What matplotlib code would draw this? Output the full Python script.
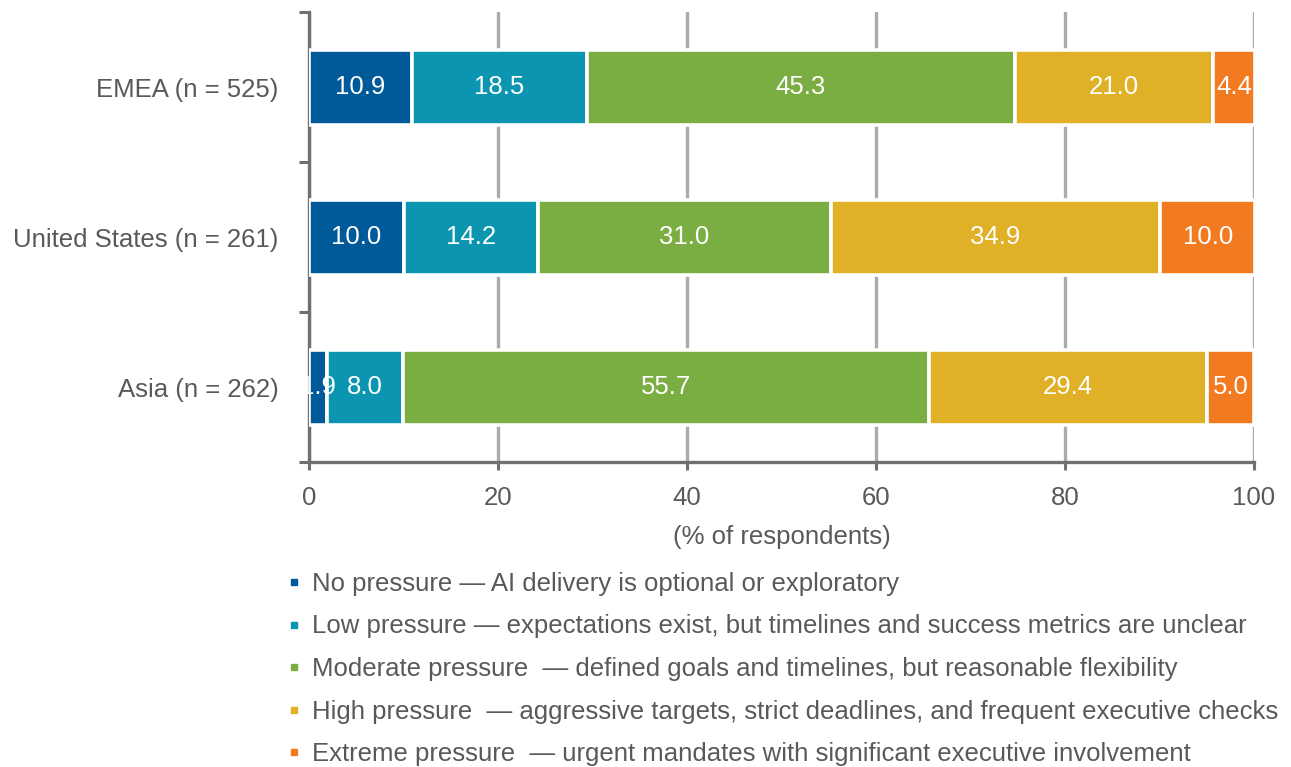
import matplotlib
matplotlib.use("Agg")
import matplotlib.pyplot as plt
from matplotlib.lines import Line2D
import numpy as np

plt.rcParams['font.family'] = ['Liberation Sans', 'DejaVu Sans']

regions = ["Asia (n = 262)", "United States (n = 261)", "EMEA (n = 525)"]
series_names = [
    "No pressure \u2014 AI delivery is optional or exploratory",
    "Low pressure \u2014 expectations exist, but timelines and success metrics are unclear",
    "Moderate pressure  \u2014 defined goals and timelines, but reasonable flexibility",
    "High pressure  \u2014 aggressive targets, strict deadlines, and frequent executive checks",
    "Extreme pressure  \u2014 urgent mandates with significant executive involvement",
]
no_pressure = [1.9, 10.0, 10.9]
low_pressure = [8.0, 14.2, 18.5]
moderate_pressure = [55.7, 31.0, 45.3]
high_pressure = [29.4, 34.9, 21.0]
extreme_pressure = [5.0, 10.0, 4.4]
series_values = [no_pressure, low_pressure, moderate_pressure, high_pressure, extreme_pressure]
colors = ["#005A9A", "#0B95B1", "#7BAE42", "#E0B027", "#F27B21"]
x_ticks = [0, 20, 40, 60, 80, 100]

text_color = "#595959"
fs = 18.5
W, H = 1291, 767
fig = plt.figure(figsize=(W / 100, H / 100), dpi=100)
ax = fig.add_axes([309 / W, 1 - 462 / H, (1254 - 309) / W, (462 - 12) / H])

y = np.arange(len(regions))
left = np.zeros(len(regions))
for vals, col in zip(series_values, colors):
    vals = np.array(vals)
    bars = ax.barh(y, vals, left=left, height=0.5, color=col,
                   edgecolor="white", linewidth=2.6, zorder=3)
    for b, v in zip(bars, vals):
        ax.text(b.get_x() + b.get_width() / 2, b.get_y() + b.get_height() / 2,
                f"{v:.1f}", ha="center", va="center", color="white",
                fontsize=fs, zorder=4)
    left += vals

ax.set_xlim(0, 100)
ax.set_ylim(-0.5, 2.5)
ax.set_xticks(x_ticks)
ax.set_xticklabels([str(t) for t in x_ticks])
ax.set_yticks(y)
ax.set_yticklabels(regions)
ax.set_yticks([-0.5, 0.5, 1.5, 2.5], minor=True)

ax.tick_params(axis="y", which="major", length=0, pad=22, labelsize=fs, labelcolor=text_color)
ax.tick_params(axis="y", which="minor", length=7, width=2.2, color="#707070", direction="out")
ax.tick_params(axis="x", which="major", length=6, width=2.2, color="#707070",
               labelsize=fs, labelcolor=text_color, pad=11)

ax.xaxis.grid(True, color="#ABABAB", linewidth=2.4, zorder=0)
ax.set_axisbelow(True)
for s in ["top", "right"]:
    ax.spines[s].set_visible(False)
for s in ["left", "bottom"]:
    ax.spines[s].set_color("#707070")
    ax.spines[s].set_linewidth(2.4)

ax.set_xlabel("(% of respondents)", fontsize=fs, color=text_color, labelpad=11)

handles = [Line2D([], [], marker="s", linestyle="none", markersize=5,
                  markerfacecolor=c, markeredgecolor=c) for c in colors]
fig.legend(handles, series_names, loc="upper left", bbox_to_anchor=(287 / W, 1 - 572 / H),
           frameon=False, fontsize=fs, labelcolor=text_color, handlelength=0.55,
           handletextpad=0.42, labelspacing=0.72, borderpad=0, borderaxespad=0)

fig.savefig("out.png", dpi=100)
